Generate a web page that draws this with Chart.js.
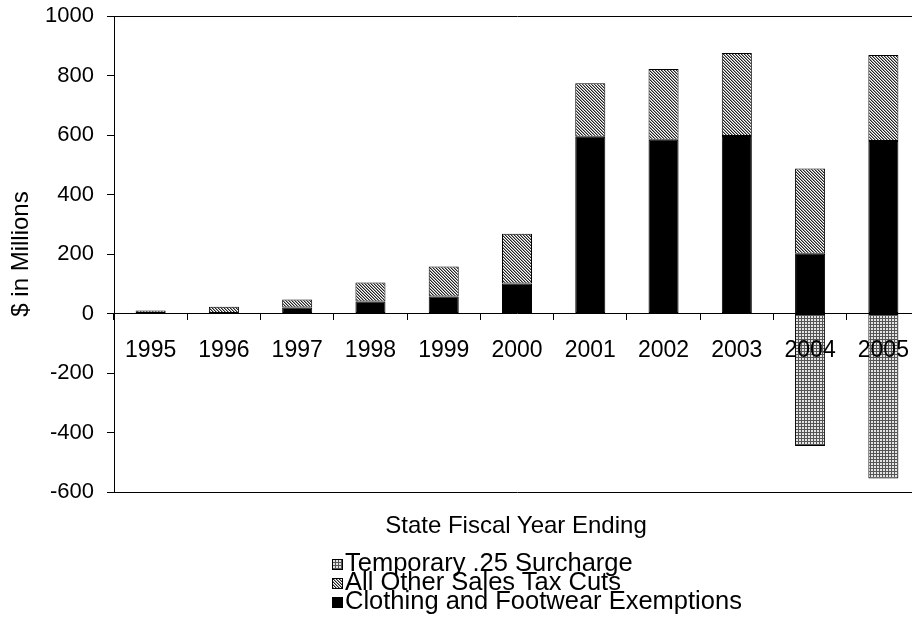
<!DOCTYPE html>
<html>
<head>
<meta charset="utf-8">
<script src="https://cdn.jsdelivr.net/npm/chart.js@4/dist/chart.umd.min.js"></script>
<style>
    html, body { margin: 0; padding: 0; background: #fff; overflow: hidden; }
    .wrap { position: relative; width: 912px; height: 619px; overflow: hidden; font-family: "Liberation Sans", Arial, sans-serif; color: #000; }
    #chart { position: absolute; left: 0; top: 0; }
    .x-title { position: absolute; left: 316px; width: 400px; top: 513px; text-align: center; font-size: 24px; line-height: 24px; }
    .legend-row { position: absolute; left: 332px; height: 19px; font-size: 25.5px; line-height: 19px; white-space: nowrap; }
    .legend-row canvas { position: absolute; left: 0; top: 6px; }
    .legend-row span { position: absolute; left: 13px; top: 0; }
</style>
</head>
<body>
<div class="wrap">
    <canvas id="chart" width="921" height="619"></canvas>
    <div class="x-title">State Fiscal Year Ending</div>
    <div id="legend"></div>
</div>
<script>
// Chart data
const years = ['1995', '1996', '1997', '1998', '1999', '2000', '2001', '2002', '2003', '2004', '2005'];
const clothingExemptions = [0, 0, 20, 40, 57, 101, 594, 584, 597, 201, 580];
const otherSalesTaxCuts = [10, 23, 27, 64, 101, 167, 180, 238, 279, 286, 289];
const temporarySurcharge = [0, 0, 0, 0, 0, 0, 0, 0, 0, -445, -555];
const yTickMin = -600;
const yTickMax = 1000;
const yTickStep = 200;

// small bitmap patterns like the old office fills
function makeTile(size, painter) {
    const c = document.createElement('canvas');
    c.width = size;
    c.height = size;
    const g = c.getContext('2d');
    for (let y = 0; y < size; y++) {
        for (let x = 0; x < size; x++) {
            g.fillStyle = painter(x, y);
            g.fillRect(x, y, 1, 1);
        }
    }
    return c;
}

const hatchShades = ['#222', '#999', '#fff'];
const hatchTile = makeTile(3, (x, y) => hatchShades[((x - y) % 3 + 3) % 3]);
const gridTile = makeTile(3, (x, y) => (x === 0 || y === 0 ? '#555' : '#e4e4e4'));

function patternFor(ctx, tile) {
    return ctx.createPattern(tile, 'repeat');
}

document.addEventListener('DOMContentLoaded', function () {
    const canvas = document.getElementById('chart');
    const ctx = canvas.getContext('2d');

    const datasets = [
        {
            label: 'Clothing and Footwear Exemptions',
            data: clothingExemptions,
            backgroundColor: '#000',
            tile: null
        },
        {
            label: 'All Other Sales Tax Cuts',
            data: otherSalesTaxCuts,
            backgroundColor: patternFor(ctx, hatchTile),
            tile: hatchTile
        },
        {
            label: 'Temporary .25 Surcharge',
            data: temporarySurcharge,
            backgroundColor: patternFor(ctx, gridTile),
            tile: gridTile
        }
    ].map(d => Object.assign(d, {
        borderColor: '#000',
        borderWidth: 1,
        borderSkipped: false,
        barPercentage: 0.41,
        categoryPercentage: 1
    }));

    new Chart(ctx, {
        type: 'bar',
        data: { labels: years, datasets },
        options: {
            responsive: false,
            animation: false,
            layout: { padding: { top: 16, bottom: 127, left: 0, right: 1 } },
            plugins: {
                legend: { display: false },
                tooltip: { enabled: false }
            },
            scales: {
                x: {
                    stacked: true,
                    position: { y: 0 },
                    offset: true,
                    afterFit: function (scale) {
                        scale.paddingLeft = 0;
                        scale.paddingRight = 0;
                    },
                    grid: {
                        offset: true,
                        drawOnChartArea: false,
                        color: '#000',
                        tickLength: 6,
                        z: 1
                    },
                    border: { display: true, color: '#000', width: 1, z: 1 },
                    ticks: {
                        color: '#000',
                        padding: 17,
                        maxRotation: 0,
                        autoSkip: false,
                        z: 1,
                        font: { family: 'Liberation Sans, Arial, sans-serif', size: 23 }
                    }
                },
                y: {
                    stacked: true,
                    min: yTickMin,
                    max: yTickMax,
                    afterFit: function (scale) {
                        scale.width = 114;
                        scale.paddingTop = 0;
                        scale.paddingBottom = 0;
                    },
                    grid: {
                        color: function (c) {
                            const v = c.tick ? c.tick.value : null;
                            return (v === yTickMax || v === yTickMin) ? '#000' : 'rgba(0,0,0,0)';
                        },
                        tickColor: '#000',
                        tickLength: 7
                    },
                    border: { display: true, color: '#000', width: 1 },
                    ticks: {
                        stepSize: yTickStep,
                        color: '#000',
                        padding: 13,
                        font: { family: 'Liberation Sans, Arial, sans-serif', size: 22 },
                        callback: function (value) { return String(value); }
                    },
                    title: {
                        display: true,
                        text: '$ in Millions',
                        color: '#000',
                        padding: { top: 7, bottom: 0 },
                        font: { family: 'Liberation Sans, Arial, sans-serif', size: 24 }
                    }
                }
            }
        }
    });

    renderLegend(datasets.slice().reverse());
});

function renderLegend(items) {
    const legend = document.getElementById('legend');
    items.forEach((d, i) => {
        const row = document.createElement('div');
        row.className = 'legend-row';
        row.style.top = (553 + i * 19) + 'px';
        const sw = document.createElement('canvas');
        sw.width = 11;
        sw.height = 11;
        const g = sw.getContext('2d');
        g.fillStyle = d.tile ? g.createPattern(d.tile, 'repeat') : '#000';
        g.fillRect(0, 0, 11, 11);
        g.strokeStyle = '#000';
        g.lineWidth = 1;
        g.strokeRect(0.5, 0.5, 10, 10);
        const label = document.createElement('span');
        label.textContent = d.label;
        row.appendChild(sw);
        row.appendChild(label);
        legend.appendChild(row);
    });
}
</script>
</body>
</html>
